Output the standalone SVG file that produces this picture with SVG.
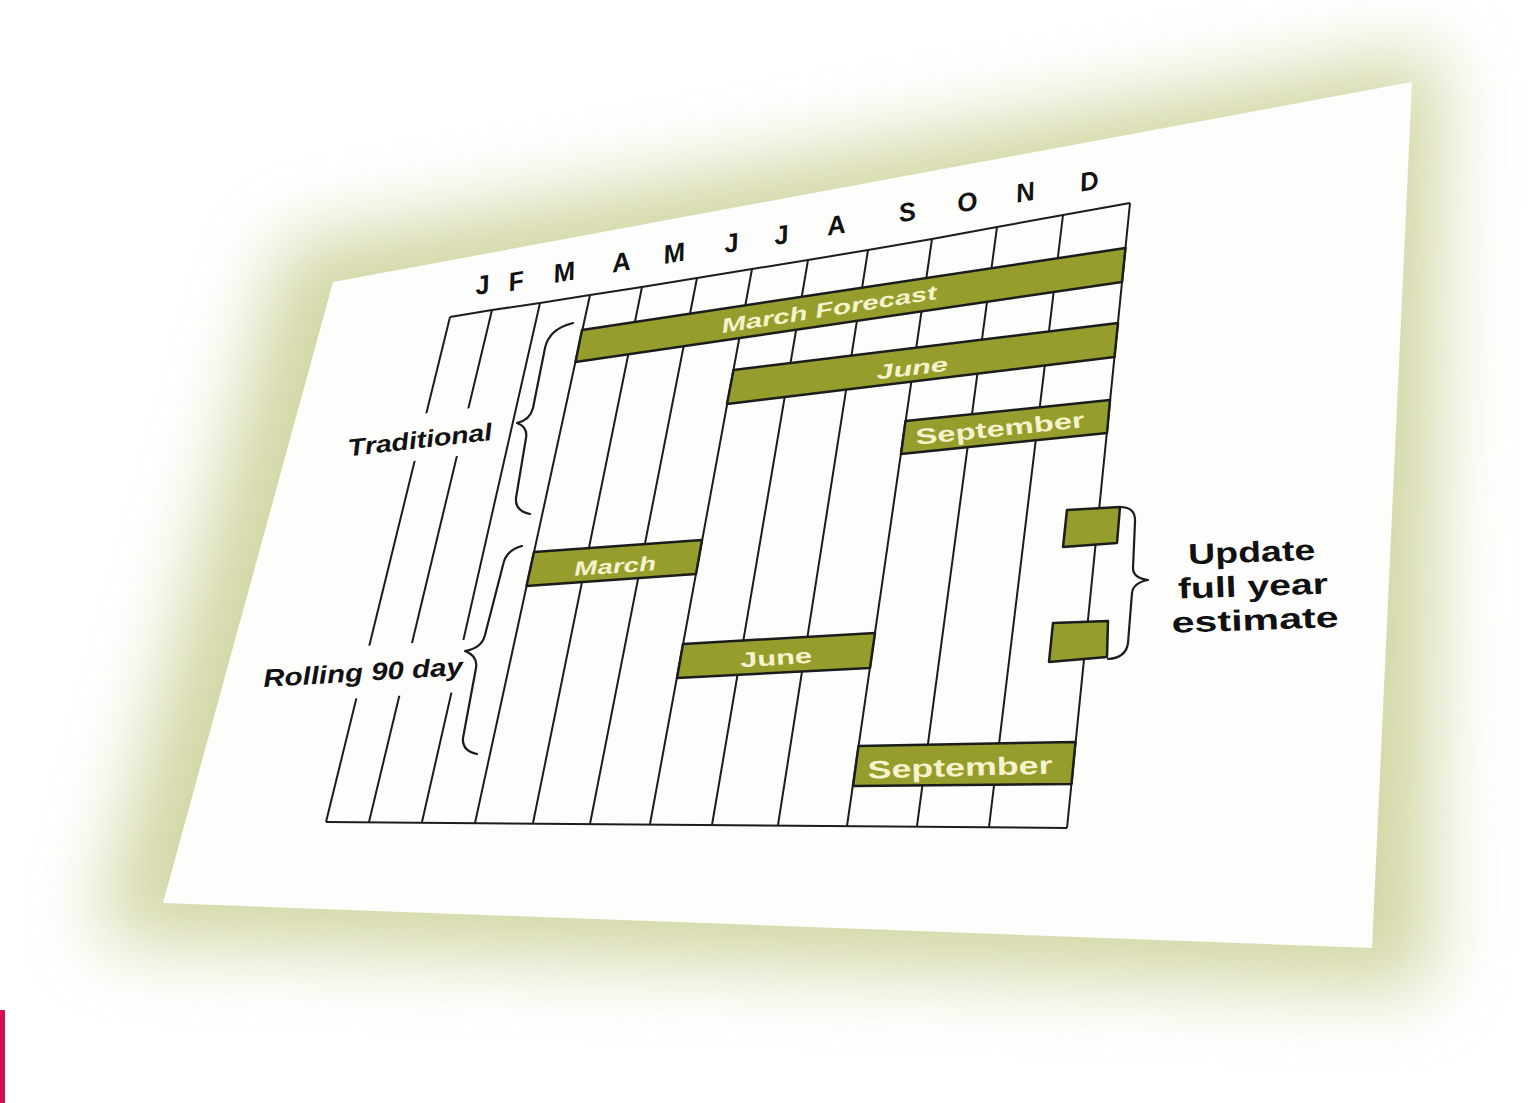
<svg xmlns="http://www.w3.org/2000/svg" width="1538" height="1103" viewBox="0 0 1538 1103">
<defs>
<filter id="blur" x="-30%" y="-30%" width="160%" height="160%"><feGaussianBlur stdDeviation="38"/></filter>
<style>
.grid{fill:none;stroke:#1c1c1c;stroke-width:2;stroke-linejoin:round}
.bar{fill:#959d2c;stroke:#1c1c1c;stroke-width:2.5;stroke-linejoin:round}
.bt{fill:#f6f3cc;font-family:"Liberation Sans",Arial,sans-serif;font-weight:bold;text-anchor:middle}
.lbl{fill:#111;font-family:"Liberation Sans",Arial,sans-serif;font-weight:bold;text-anchor:middle}
.mo{fill:#111;font-family:"Liberation Sans",Arial,sans-serif;font-weight:bold;font-style:italic;font-size:26px;text-anchor:middle}
.brace{fill:none;stroke:#1c1c1c;stroke-width:2.2;stroke-linecap:round;stroke-linejoin:round}
.mask{fill:#fdfdfb}
</style>
</defs>
<rect width="1538" height="1103" fill="#ffffff"/>
<g id="sheet">
<polygon points="285,245 1440,50 1430,990 95,940" fill="#c3c985" opacity="0.75" filter="url(#blur)"/>
<polygon points="333,282 1412,82 1372,948 163,903" fill="#fdfdfb"/>
</g>
<g id="grid">
<path class="grid" d="M450,317 L326,822 M492,310 L369,822 M540,303 L422,822 M590,295 L475,823 M642,287 L533,823 M697,278 L590,824 M752,269 L650,824 M808,260 L712,825 M868,250 L778,825 M932,239 L847,826 M997,227 L917,826 M1063,215 L989,827 M1130,203 L1067,828"/>
<path class="grid" d="M450,317 L492,310 L540,303 L590,295 L642,287 L697,278 L752,269 L808,260 L868,250 L932,239 L997,227 L1063,215 L1130,203 M326,822 L1067,828"/>
</g>
<g id="months">
<text class="mo" x="482" y="294" transform="rotate(-9.5 482 285)">J</text>
<text class="mo" x="516" y="290" transform="rotate(-9.5 516 281)">F</text>
<text class="mo" x="564" y="281" transform="rotate(-9.5 564 272)">M</text>
<text class="mo" x="621" y="271" transform="rotate(-9.5 621 262)">A</text>
<text class="mo" x="674" y="262" transform="rotate(-9.5 674 253)">M</text>
<text class="mo" x="731" y="252" transform="rotate(-9.5 731 243)">J</text>
<text class="mo" x="781" y="244" transform="rotate(-9.5 781 235)">J</text>
<text class="mo" x="836" y="234" transform="rotate(-9.5 836 225)">A</text>
<text class="mo" x="907" y="221" transform="rotate(-9.5 907 212)">S</text>
<text class="mo" x="967" y="211" transform="rotate(-9.5 967 202)">O</text>
<text class="mo" x="1025" y="201" transform="rotate(-9.5 1025 192)">N</text>
<text class="mo" x="1089" y="190" transform="rotate(-9.5 1089 181)">D</text>
</g>
<g id="bar-march-forecast">
<polygon class="bar" points="582,330 1125.5,248 1122,282 575.5,362"/>
<text class="bt" x="829" y="316" font-size="20" font-style="italic" textLength="218" lengthAdjust="spacingAndGlyphs" transform="rotate(-9 829 309)">March Forecast</text>
</g>
<g id="bar-june-traditional">
<polygon class="bar" points="733.5,370 1118,323 1114.5,357 727,404"/>
<text class="bt" x="912" y="375" font-size="20" font-style="italic" textLength="72" lengthAdjust="spacingAndGlyphs" transform="rotate(-7 912 368)">June</text>
</g>
<g id="bar-september-traditional">
<polygon class="bar" points="905.5,421 1110,400 1107,433 901,454"/>
<text class="bt" x="1000" y="436" font-size="22" textLength="170" lengthAdjust="spacingAndGlyphs" transform="rotate(-6 1000 428)">September</text>
</g>
<g id="bar-march-rolling">
<polygon class="bar" points="534,552 702,540 696,574 526.5,586"/>
<text class="bt" x="615" y="573" font-size="20" font-style="italic" textLength="82" lengthAdjust="spacingAndGlyphs" transform="rotate(-4 615 566)">March</text>
</g>
<g id="bar-june-rolling">
<polygon class="bar" points="683,644 875,633 870,668 677,678"/>
<text class="bt" x="776" y="665" font-size="21" textLength="72" lengthAdjust="spacingAndGlyphs" transform="rotate(-3.5 776 657)">June</text>
</g>
<g id="bar-september-rolling">
<polygon class="bar" points="858.5,746 1075.5,742 1071.5,784 853,786"/>
<text class="bt" x="960" y="776" font-size="25" textLength="185" lengthAdjust="spacingAndGlyphs" transform="rotate(-1.5 960 767)">September</text>
</g>
<g id="update-boxes">
<polygon class="bar" points="1067,510 1120,507 1117,543 1063,547"/>
<polygon class="bar" points="1053,623 1108,621 1107,657 1049,662"/>
</g>
<g id="label-traditional">
<rect class="mask" x="345" y="414" width="152" height="46" transform="rotate(-6.5 421 437)"/>
<text class="lbl" x="420" y="448" font-size="24" font-style="italic" textLength="145" lengthAdjust="spacingAndGlyphs" transform="rotate(-6.5 420 440)">Traditional</text>
</g>
<g id="label-rolling">
<rect class="mask" x="258" y="646" width="210" height="52" transform="rotate(-3.5 363 672)"/>
<text class="lbl" x="363" y="681" font-size="25" font-style="italic" textLength="200" lengthAdjust="spacingAndGlyphs" transform="rotate(-3.5 363 672)">Rolling 90 day</text>
</g>
<g id="label-update" transform="rotate(-2 1253 590)">
<text class="lbl" x="1253" y="562" font-size="29" textLength="127" lengthAdjust="spacingAndGlyphs">Update</text>
<text class="lbl" x="1253" y="596" font-size="29" textLength="150" lengthAdjust="spacingAndGlyphs">full year</text>
<text class="lbl" x="1254" y="630" font-size="29" textLength="167" lengthAdjust="spacingAndGlyphs">estimate</text>
</g>
<g id="connectors">
<path class="brace" d="M573,323 Q549,329 545,348 L533,408 Q530,420 517,423 Q528,427 526,438 L516,498 Q515,511 530,514"/>
<path class="brace" d="M522,546 Q506,550 503,565 L485,635 Q482,648 465,651 Q478,656 476,668 L463,738 Q462,751 477,754"/>
<path class="brace" d="M1120,507 Q1136,507 1135,522 L1133,568 Q1133,578 1148,580 Q1133,583 1132,593 L1128,643 Q1126,658 1108,659"/>
</g>
<rect id="edge-mark" x="0" y="1010" width="5" height="93" fill="#d2104a"/>
</svg>
